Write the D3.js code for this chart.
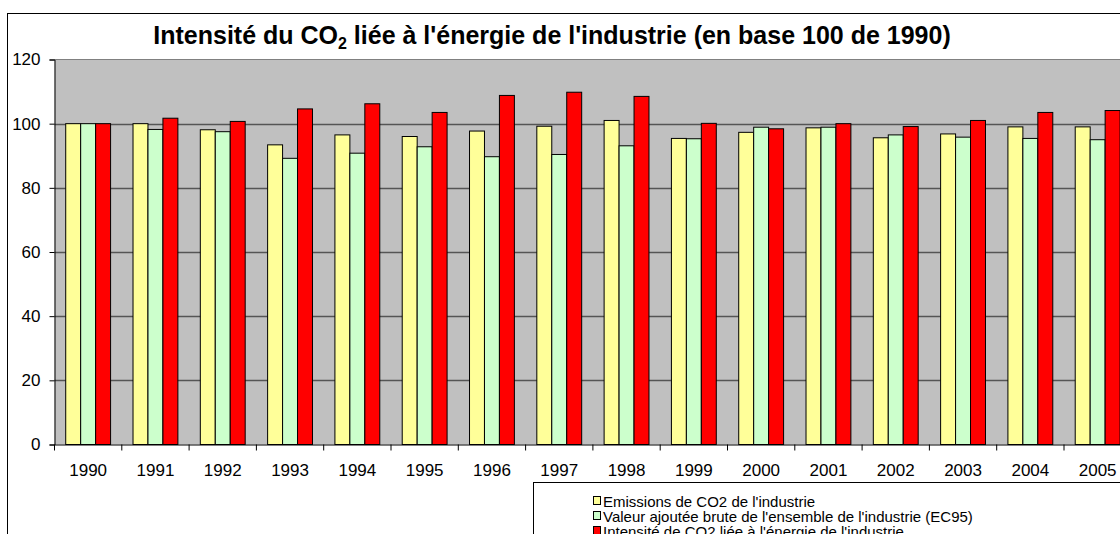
<!DOCTYPE html>
<html>
<head>
<meta charset="utf-8">
<script src="https://cdn.jsdelivr.net/npm/d3@7"></script>
<style>
  body { margin: 0; background: #fff; overflow: hidden; }
  text { font-family: "Liberation Sans", Arial, sans-serif; }
</style>
</head>
<body>
<div id="chart"></div>
<script>
// data (base 100 = 1990)
var years = ["1990", "1991", "1992", "1993", "1994", "1995", "1996", "1997",
             "1998", "1999", "2000", "2001", "2002", "2003", "2004", "2005"];
var emissions = [100, 100, 98.1, 93.4, 96.5, 96.0, 97.7, 99.2,
                 101.0, 95.4, 97.3, 98.7, 95.6, 96.8, 99.0, 99.0];
var valeurAjoutee = [100, 98.2, 97.5, 89.2, 90.8, 92.8, 89.7, 90.4,
                     93.1, 95.3, 98.9, 98.9, 96.5, 95.8, 95.4, 95.0];
var intensite = [100, 101.7, 100.7, 104.6, 106.2, 103.5, 108.8, 109.8,
                 108.5, 100.1, 98.4, 100.0, 99.1, 101.0, 103.5, 104.1];
var yTicks = [0, 20, 40, 60, 80, 100, 120];

var seriesNames = ["Emissions de CO2 de l'industrie",
                   "Valeur ajoutée brute de l'ensemble de l'industrie (EC95)",
                   "Intensité de CO2 liée à l'énergie de l'industrie"];
var seriesColors = ["#FFFF99", "#CCFFCC", "#FF0000"];
var seriesKeys = ["emi", "va", "int"];

var svgWidth = 1120;
var svgHeight = 534;

var plot = { left: 54.5, top: 59.5, bottom: 444.5, step: 67.3 };

var svg = d3.select("#chart")
    .append("svg")
    .attr("width", svgWidth)
    .attr("height", svgHeight);

// outer chart frame (runs off the right / bottom like the original)
svg.append("rect")
    .attr("x", 7.5)
    .attr("y", 13.5)
    .attr("width", 1200)
    .attr("height", 600)
    .attr("fill", "#fff")
    .attr("stroke", "#000")
    .attr("stroke-width", 1);

var rows = years.map(function(y, i) {
    return { year: y, emi: emissions[i], va: valeurAjoutee[i], int: intensite[i] };
});

var x0 = d3.scaleBand()
    .domain(years)
    .range([plot.left, plot.left + plot.step * years.length])
    .padding(0);

var x1 = d3.scaleBand()
    .domain(seriesKeys)
    .range([0, x0.bandwidth()])
    .paddingInner(0)
    .paddingOuter(0.75);

var y = d3.scaleLinear()
    .domain([0, 120])
    .range([plot.bottom, plot.top]);

var color = d3.scaleOrdinal().domain(seriesKeys).range(seriesColors);

// plot background
svg.append("rect")
    .attr("x", plot.left)
    .attr("y", y(120))
    .attr("width", x0.range()[1] - plot.left)
    .attr("height", y(0) - y(120))
    .attr("fill", "#C0C0C0");

svg.append("line")
    .attr("x1", plot.left)
    .attr("x2", x0.range()[1])
    .attr("y1", y(120))
    .attr("y2", y(120))
    .attr("stroke", "#808080");

// gridlines
svg.append("g")
    .selectAll("line")
    .data(yTicks.filter(function(d) { return d > 0 && d < 120; }))
    .enter()
    .append("line")
    .attr("x1", plot.left)
    .attr("x2", x0.range()[1])
    .attr("y1", function(d) { return Math.round(y(d)) + 0.5; })
    .attr("y2", function(d) { return Math.round(y(d)) + 0.5; })
    .attr("stroke", "#555")
    .attr("stroke-width", 1.3);

// bars
var groups = svg.append("g")
    .selectAll("g")
    .data(rows)
    .enter()
    .append("g")
    .attr("transform", function(d) { return "translate(" + x0(d.year) + ",0)"; });

groups.selectAll("rect")
    .data(function(d) {
        return seriesKeys.map(function(k) { return { key: k, value: d[k] }; });
    })
    .enter()
    .append("rect")
    .attr("x", function(d) { return x1(d.key); })
    .attr("y", function(d) { return y(d.value); })
    .attr("width", x1.bandwidth())
    .attr("height", function(d) { return y(0) - y(d.value); })
    .attr("fill", function(d) { return color(d.key); })
    .attr("stroke", "#000")
    .attr("stroke-width", 1);

// y axis
var leftAxis = d3.axisLeft(y)
    .tickValues(yTicks)
    .tickSize(5)
    .tickPadding(9);

svg.append("g")
    .attr("transform", "translate(" + plot.left + ",0)")
    .call(leftAxis)
    .call(function(g) {
        g.selectAll("text").style("font-size", "17px").attr("fill", "#000");
        g.select(".domain").attr("stroke", "#000");
    });

// x axis: labels at centres, ticks at category boundaries
var bottomAxis = d3.axisBottom(x0)
    .tickSize(0)
    .tickPadding(19);

svg.append("g")
    .attr("transform", "translate(0," + plot.bottom + ")")
    .call(bottomAxis)
    .call(function(g) {
        g.select(".domain").attr("stroke", "#000");
        g.selectAll("text").style("font-size", "17px").attr("fill", "#000");
    });

svg.append("g")
    .selectAll("line")
    .data(years)
    .enter()
    .append("line")
    .attr("x1", function(d) { return x0(d); })
    .attr("x2", function(d) { return x0(d); })
    .attr("y1", plot.bottom)
    .attr("y2", plot.bottom + 6)
    .attr("stroke", "#000");

// title
var title = svg.append("text")
    .attr("x", 552)
    .attr("y", 44)
    .attr("text-anchor", "middle")
    .style("font-size", "25px")
    .style("font-weight", "bold");
title.append("tspan").text("Intensité du CO");
title.append("tspan").attr("dy", 5).style("font-size", "16px").text("2");
title.append("tspan").attr("dy", -5).text(" liée à l'énergie de l'industrie (en base 100 de 1990)");

// legend box
var legend = svg.append("g");
legend.append("rect")
    .attr("x", 533.5)
    .attr("y", 482.5)
    .attr("width", 700)
    .attr("height", 100)
    .attr("fill", "#fff")
    .attr("stroke", "#000");

var items = legend.selectAll("g.item")
    .data(seriesNames)
    .enter()
    .append("g")
    .attr("class", "item")
    .attr("transform", function(d, i) { return "translate(593," + (496 + i * 15) + ")"; });

items.append("rect")
    .attr("x", 0.5)
    .attr("y", 0.5)
    .attr("width", 7)
    .attr("height", 8)
    .attr("fill", function(d, i) { return seriesColors[i]; })
    .attr("stroke", "#000");

items.append("text")
    .attr("x", 10)
    .attr("y", 10.5)
    .style("font-size", "15px")
    .text(function(d) { return d; });
</script>
</body>
</html>
